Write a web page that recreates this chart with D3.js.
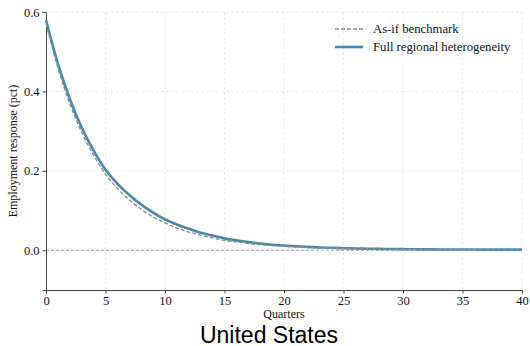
<!DOCTYPE html>
<html>
<head>
<meta charset="utf-8">
<script src="https://cdn.jsdelivr.net/npm/d3@7"></script>
<style>
  html, body { margin: 0; padding: 0; background: #fff; }
  svg { display: block; }
</style>
</head>
<body>
<svg id="chart" width="530" height="346"></svg>
<script>
// Quarters after the shock
const quarters = d3.range(0, 41);

// Employment response (pct), full regional heterogeneity
const fullHeterogeneity = [
  0.580, 0.470, 0.381, 0.309, 0.251, 0.203, 0.168, 0.139, 0.115, 0.095,
  0.078, 0.065, 0.054, 0.044, 0.037, 0.030, 0.025, 0.021, 0.017, 0.014,
  0.012, 0.010, 0.0085, 0.0072, 0.0062, 0.0053, 0.0046, 0.0040, 0.0035, 0.0031,
  0.0028, 0.0025, 0.0023, 0.0021, 0.0020, 0.0019, 0.0018, 0.0017, 0.0017, 0.0016, 0.0016
];

// Employment response (pct), as-if benchmark
const asIfBenchmark = [
  0.572, 0.459, 0.369, 0.297, 0.239, 0.192, 0.156, 0.127, 0.103, 0.084,
  0.069, 0.056, 0.046, 0.038, 0.031, 0.025, 0.021, 0.017, 0.014, 0.012,
  0.010, 0.0083, 0.0070, 0.0060, 0.0052, 0.0045, 0.0040, 0.0035, 0.0031, 0.0028,
  0.0026, 0.0024, 0.0022, 0.0020, 0.0019, 0.0018, 0.0017, 0.0017, 0.0016, 0.0016, 0.0016
];

const xTicks = [0, 5, 10, 15, 20, 25, 30, 35, 40];
const yTicks = [0.0, 0.2, 0.4, 0.6];

const seriesNames = ["As-if benchmark", "Full regional heterogeneity"];

const svg = d3.select("#chart");
const margin = { left: 46, right: 8, top: 12, bottom: 56 };
const W = 530, H = 346;

const x = d3.scaleLinear().domain([0, 40]).range([margin.left, W - margin.right]);
const y = d3.scaleLinear().domain([-0.1, 0.6]).range([H - margin.bottom, margin.top]);

const serif = "'Liberation Serif', 'Times New Roman', serif";

// Grid
const grid = svg.append("g");
grid.selectAll("line.gx").data(xTicks.filter(d => d > 0)).join("line")
  .attr("x1", d => x(d)).attr("x2", d => x(d))
  .attr("y1", y(0.6)).attr("y2", y(-0.1))
  .attr("stroke", "#e4e4e4").attr("stroke-width", 0.8).attr("stroke-dasharray", "3,2");
grid.selectAll("line.gy").data(yTicks.filter(d => d !== 0)).join("line")
  .attr("x1", x(0)).attr("x2", x(40))
  .attr("y1", d => y(d)).attr("y2", d => y(d))
  .attr("stroke", "#e4e4e4").attr("stroke-width", 0.8).attr("stroke-dasharray", "3,2");

// Zero reference line
svg.append("line")
  .attr("x1", x(0)).attr("x2", x(40))
  .attr("y1", y(0)).attr("y2", y(0))
  .attr("stroke", "#999").attr("stroke-width", 0.9).attr("stroke-dasharray", "3,2");

// Axes
const xAxis = svg.append("g")
  .attr("transform", `translate(0,${y(-0.1)})`)
  .call(d3.axisBottom(x).tickValues(xTicks).tickFormat(d3.format("d")).tickSize(3.5).tickPadding(3));
const yAxis = svg.append("g")
  .attr("transform", `translate(${x(0)},0)`)
  .call(d3.axisLeft(y).tickValues(yTicks).tickFormat(d3.format(".1f")).tickSize(3.5).tickPadding(3));

[xAxis, yAxis].forEach(a => {
  a.select(".domain").attr("stroke", "#444").attr("stroke-width", 1);
  a.selectAll(".tick line").attr("stroke", "#444");
  a.selectAll(".tick text").attr("font-family", serif).attr("font-size", 12.5).attr("fill", "#111");
});

// Series lines
const line = d3.line().x((d, i) => x(quarters[i])).y(d => y(d)).curve(d3.curveMonotoneX);

svg.append("path").datum(fullHeterogeneity)
  .attr("d", line).attr("fill", "none")
  .attr("stroke", "#4a88a6").attr("stroke-width", 2.6);

svg.append("path").datum(asIfBenchmark)
  .attr("d", line).attr("fill", "none")
  .attr("stroke", "#8c8c8c").attr("stroke-width", 1.3).attr("stroke-dasharray", "4,2");

// Axis titles
svg.append("text")
  .attr("x", x(20)).attr("y", 318)
  .attr("text-anchor", "middle")
  .attr("font-family", serif).attr("font-size", 12).attr("fill", "#111")
  .text("Quarters");

svg.append("text")
  .attr("transform", `translate(17,${y(0.25)}) rotate(-90)`)
  .attr("text-anchor", "middle")
  .attr("font-family", serif).attr("font-size", 12).attr("fill", "#111")
  .text("Employment response (pct)");

// Title
svg.append("text")
  .attr("x", 269).attr("y", 342.5)
  .attr("text-anchor", "middle")
  .attr("font-family", "'Liberation Sans', Arial, sans-serif").attr("font-size", 23).attr("fill", "#000")
  .text("United States");

// Legend
const legend = svg.append("g");
const legendRows = [
  { name: seriesNames[0], stroke: "#8c8c8c", width: 1.3, dash: "4,2", ly: 29 },
  { name: seriesNames[1], stroke: "#4a88a6", width: 2.6, dash: null, ly: 47 }
];
legendRows.forEach(r => {
  legend.append("line")
    .attr("x1", 335).attr("x2", 363)
    .attr("y1", r.ly).attr("y2", r.ly)
    .attr("stroke", r.stroke).attr("stroke-width", r.width)
    .attr("stroke-dasharray", r.dash);
  legend.append("text")
    .attr("x", 373).attr("y", r.ly + 4)
    .attr("font-family", serif).attr("font-size", 12.7).attr("fill", "#111")
    .text(r.name);
});
</script>
</body>
</html>
